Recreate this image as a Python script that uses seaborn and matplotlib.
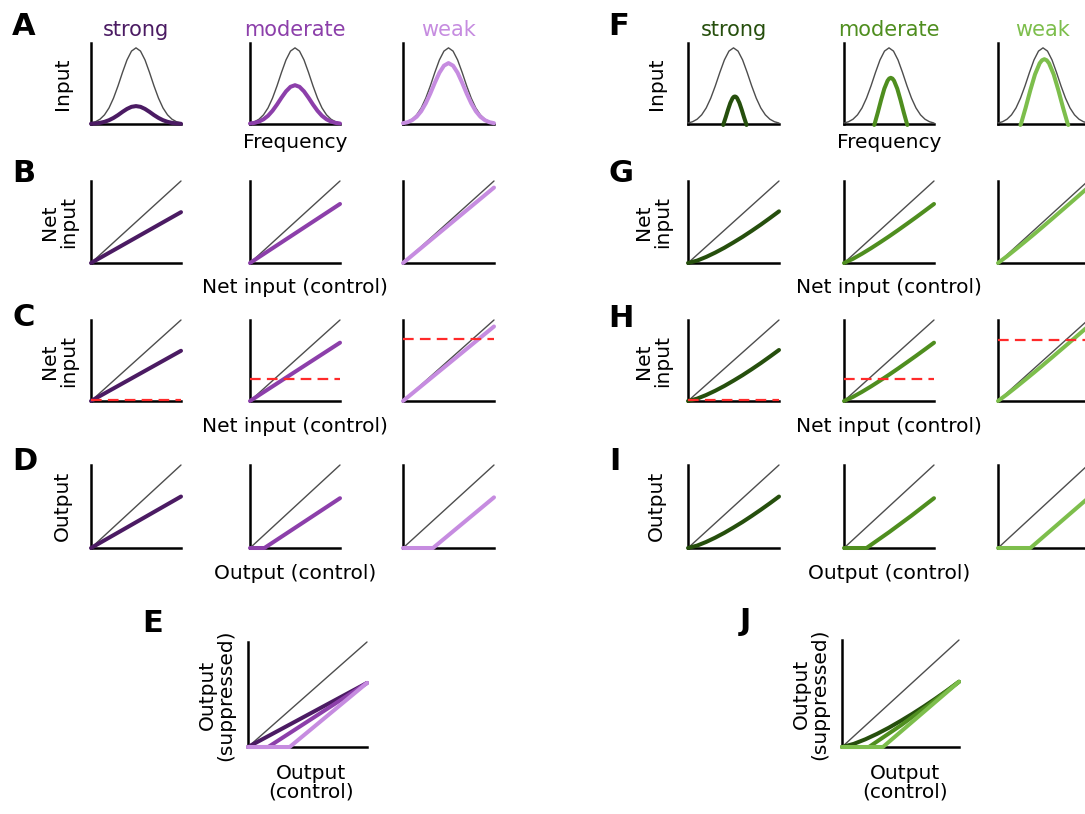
import matplotlib
matplotlib.use("Agg")
import matplotlib.pyplot as plt
import seaborn as sns

sns.set_style("white")
plt.rcParams['font.family'] = ['DejaVu Sans']
plt.rcParams['text.color'] = 'black'

W, H = 1085, 814

# ---------------- data ----------------
conditions = ["strong", "moderate", "weak"]
purple_colors = ["#4B1B63", "#8C3FAA", "#C68CE0"]
green_colors = ["#264F0D", "#4F8E1F", "#7DBE4C"]
grey = "#4d4d4d"
red = "#FF2A2A"

# Row A: input vs frequency
freq = [0.00, 0.05, 0.10, 0.15, 0.20, 0.25, 0.30, 0.35, 0.40, 0.45, 0.50,
        0.55, 0.60, 0.65, 0.70, 0.75, 0.80, 0.85, 0.90, 0.95, 1.00]
control_input = [0.012, 0.028, 0.059, 0.113, 0.198, 0.319, 0.470, 0.637, 0.791, 0.900, 0.940,
                 0.900, 0.791, 0.637, 0.470, 0.319, 0.198, 0.113, 0.059, 0.028, 0.012]
div_input_strong = [0.003, 0.007, 0.014, 0.027, 0.047, 0.075, 0.110, 0.150, 0.186, 0.212, 0.221,
                    0.212, 0.186, 0.150, 0.110, 0.075, 0.047, 0.027, 0.014, 0.007, 0.003]
div_input_moderate = [0.006, 0.014, 0.030, 0.058, 0.101, 0.163, 0.240, 0.325, 0.403, 0.459, 0.479,
                      0.459, 0.403, 0.325, 0.240, 0.163, 0.101, 0.058, 0.030, 0.014, 0.006]
div_input_weak = [0.010, 0.022, 0.047, 0.090, 0.158, 0.255, 0.376, 0.510, 0.633, 0.720, 0.752,
                  0.720, 0.633, 0.510, 0.376, 0.255, 0.158, 0.090, 0.047, 0.022, 0.010]

sub_freq_strong = [0.387, 0.39, 0.415, 0.44, 0.465, 0.49, 0.5025, 0.515, 0.5275, 0.54, 0.565, 0.59, 0.615, 0.64, 0.643]
sub_input_strong = [-0.012, 0.0, 0.085, 0.177, 0.260, 0.319, 0.335, 0.34, 0.335, 0.319, 0.260, 0.177, 0.085, 0.0, -0.012]
sub_freq_moderate = [0.336, 0.34, 0.376, 0.412, 0.448, 0.484, 0.502, 0.52, 0.538, 0.556, 0.592, 0.628, 0.664, 0.70, 0.704]
sub_input_moderate = [-0.012, 0.0, 0.143, 0.296, 0.436, 0.534, 0.561, 0.57, 0.561, 0.534, 0.436, 0.296, 0.143, 0.0, -0.012]
sub_freq_weak = [0.249, 0.255, 0.307, 0.359, 0.411, 0.463, 0.489, 0.515, 0.541, 0.567, 0.619, 0.671, 0.723, 0.775, 0.781]
sub_input_weak = [-0.012, 0.0, 0.20, 0.416, 0.612, 0.75, 0.787, 0.80, 0.787, 0.75, 0.612, 0.416, 0.20, 0.0, -0.012]

# Identity (control) line
unity_x = [0.0, 1.0]
unity_y = [0.0, 1.0]

# Rows B/C (purple): net input vs control net input
div_net_x = [0.0, 1.0]
div_net_end = [0.62, 0.72, 0.92]
div_thresholds = [0.01, 0.27, 0.76]

# Rows G/H (green): net input vs control net input
net_x = [0.0, 0.1, 0.2, 0.3, 0.4, 0.5, 0.6, 0.7, 0.8, 0.9, 1.0]
sub_net_strong = [0.0, 0.029, 0.074, 0.127, 0.186, 0.251, 0.319, 0.392, 0.468, 0.548, 0.63]
sub_net_moderate = [0.0, 0.051, 0.113, 0.180, 0.251, 0.324, 0.400, 0.478, 0.557, 0.638, 0.72]
sub_net_weak = [0.0, 0.082, 0.170, 0.260, 0.351, 0.444, 0.538, 0.633, 0.728, 0.824, 0.92]
sub_thresholds = [0.01, 0.27, 0.75]

# Row D (purple): output vs control output
div_out_x = [[0.0, 1.0], [0.0, 0.16, 1.0], [0.0, 0.33, 1.0]]
div_out_y = [[0.0, 0.62], [0.0, 0.0, 0.60], [0.0, 0.0, 0.61]]

# Row I (green): output vs control output
sub_out_x = [net_x, [0.0, 0.25, 0.5, 0.75, 1.0], [0.0, 0.36, 1.0]]
sub_out_y = [[0.0, 0.029, 0.073, 0.125, 0.183, 0.247, 0.314, 0.386, 0.461, 0.539, 0.62],
             [0.0, 0.0, 0.19, 0.39, 0.60],
             [0.0, 0.0, 0.60]]

# Panel E / J: suppressed output vs control output
div_E_x = [[0.0, 1.0], [0.0, 0.17, 1.0], [0.0, 0.35, 1.0]]
div_E_y = [[0.0, 0.61], [0.0, 0.0, 0.61], [0.0, 0.0, 0.61]]
sub_J_x = [net_x, [0.0, 0.23, 0.5, 0.75, 1.0], [0.0, 0.35, 1.0]]
sub_J_y = [[0.0, 0.029, 0.072, 0.123, 0.180, 0.243, 0.309, 0.379, 0.453, 0.530, 0.61],
           [0.0, 0.0, 0.20, 0.40, 0.61],
           [0.0, 0.0, 0.61]]

# ---------------- layout ----------------
fig = plt.figure(figsize=(W / 100, H / 100), dpi=100)

rows_y = {"A": (43, 124), "B": (181, 263), "C": (320, 401), "D": (465, 548)}
purple_cols = [(91, 181), (250, 340), (403, 494)]
green_cols = [(688, 779), (844, 934), (998, 1088)]

LW = 2.9


def add_ax(x0, y0, x1, y1):
    ax = fig.add_axes([x0 / W, 1 - y1 / H, (x1 - x0) / W, (y1 - y0) / H])
    ax.set_xlim(0, 1)
    ax.set_ylim(0, 1)
    sns.despine(ax=ax)
    for s in ["left", "bottom"]:
        ax.spines[s].set_linewidth(1.8)
        ax.spines[s].set_color("black")
        ax.spines[s].set_zorder(1)
    ax.set_xticks([])
    ax.set_yticks([])
    ax.set_xlabel("")
    ax.set_ylabel("")
    ax.patch.set_alpha(0)
    return ax


def line(ax, x, y, color, lw=LW, **kw):
    sns.lineplot(x=x, y=y, ax=ax, color=color, linewidth=lw, estimator=None,
                 sort=False, legend=False, clip_on=False,
                 solid_capstyle="round", **kw)
    ax.set_xlabel("")
    ax.set_ylabel("")


def ftext(x, y, s, **kw):
    fig.text(x / W, 1 - y / H, s, **kw)


div_inputs = [div_input_strong, div_input_moderate, div_input_weak]
sub_freqs = [sub_freq_strong, sub_freq_moderate, sub_freq_weak]
sub_inputs = [sub_input_strong, sub_input_moderate, sub_input_weak]
sub_nets = [sub_net_strong, sub_net_moderate, sub_net_weak]

for side in ["div", "sub"]:
    cols = purple_cols if side == "div" else green_cols
    colors = purple_colors if side == "div" else green_colors
    for i in range(3):
        x0, x1 = cols[i]
        c = colors[i]
        # Row A
        ax = add_ax(x0, rows_y["A"][0], x1, rows_y["A"][1])
        line(ax, freq, control_input, grey, lw=1.0)
        if side == "div":
            line(ax, freq, div_inputs[i], c)
        else:
            line(ax, sub_freqs[i], sub_inputs[i], c)
        # Rows B and C
        for r in ["B", "C"]:
            ax = add_ax(x0, rows_y[r][0], x1, rows_y[r][1])
            line(ax, unity_x, unity_y, grey, lw=1.0)
            if side == "div":
                line(ax, div_net_x, [0.0, div_net_end[i]], c)
                thr = div_thresholds[i]
            else:
                line(ax, net_x, sub_nets[i], c)
                thr = sub_thresholds[i]
            if r == "C":
                sns.lineplot(x=[0.0, 1.0], y=[thr, thr], ax=ax, color=red, linewidth=1.6,
                             linestyle=(0, (4.8, 2.8)), estimator=None, legend=False,
                             clip_on=False, zorder=5)
                ax.set_xlabel("")
                ax.set_ylabel("")
        # Row D
        ax = add_ax(x0, rows_y["D"][0], x1, rows_y["D"][1])
        line(ax, unity_x, unity_y, grey, lw=1.0)
        if side == "div":
            line(ax, div_out_x[i], div_out_y[i], c)
        else:
            line(ax, sub_out_x[i], sub_out_y[i], c)

    # Column titles
    for i in range(3):
        cx = (cols[i][0] + cols[i][1]) / 2
        ftext(cx, 36, conditions[i], color=colors[i], fontsize=15, ha="center", va="baseline")

    # Axis labels
    mid = (cols[1][0] + cols[1][1]) / 2
    xl = 62 if side == "div" else 656
    ftext(mid, 148, "Frequency", fontsize=14.5, ha="center", va="baseline")
    ftext(mid, 293, "Net input (control)", fontsize=14.5, ha="center", va="baseline")
    ftext(mid, 432, "Net input (control)", fontsize=14.5, ha="center", va="baseline")
    ftext(mid, 579, "Output (control)", fontsize=14.5, ha="center", va="baseline")
    ftext(xl, 84, "Input", fontsize=14.5, rotation=90, ha="center", va="center")
    ftext(xl - 3, 222, "Net\ninput", fontsize=14.5, rotation=90, ha="center", va="center",
          linespacing=0.95)
    ftext(xl - 3, 361, "Net\ninput", fontsize=14.5, rotation=90, ha="center", va="center",
          linespacing=0.95)
    ftext(xl, 506, "Output", fontsize=14.5, rotation=90, ha="center", va="center")

# Panel E
axE = add_ax(248, 642, 367, 747)
line(axE, unity_x, unity_y, grey, lw=1.0)
for i in range(3):
    line(axE, div_E_x[i], div_E_y[i], purple_colors[i])
ftext(217, 695, "Output\n(suppressed)", fontsize=14.5, rotation=90, ha="center", va="center",
      linespacing=0.95)
ftext(311, 764, "Output\n(control)", fontsize=14.5, ha="center", va="top", linespacing=0.95)

# Panel J
axJ = add_ax(842, 640, 959, 747)
line(axJ, unity_x, unity_y, grey, lw=1.0)
for i in range(3):
    line(axJ, sub_J_x[i], sub_J_y[i], green_colors[i])
ftext(811, 694, "Output\n(suppressed)", fontsize=14.5, rotation=90, ha="center", va="center",
      linespacing=0.95)
ftext(905, 764, "Output\n(control)", fontsize=14.5, ha="center", va="top", linespacing=0.95)

# Panel letters
letters = {"A": (12, 35), "B": (12, 182), "C": (12, 326), "D": (12, 470), "E": (142, 632),
           "F": (608, 35), "G": (608, 182), "H": (608, 327), "I": (609, 470), "J": (740, 630)}
for k, (lx, ly) in letters.items():
    ftext(lx, ly, k, fontsize=22, fontweight="bold", ha="left", va="baseline", color="black")

fig.savefig("out.png", dpi=100)
